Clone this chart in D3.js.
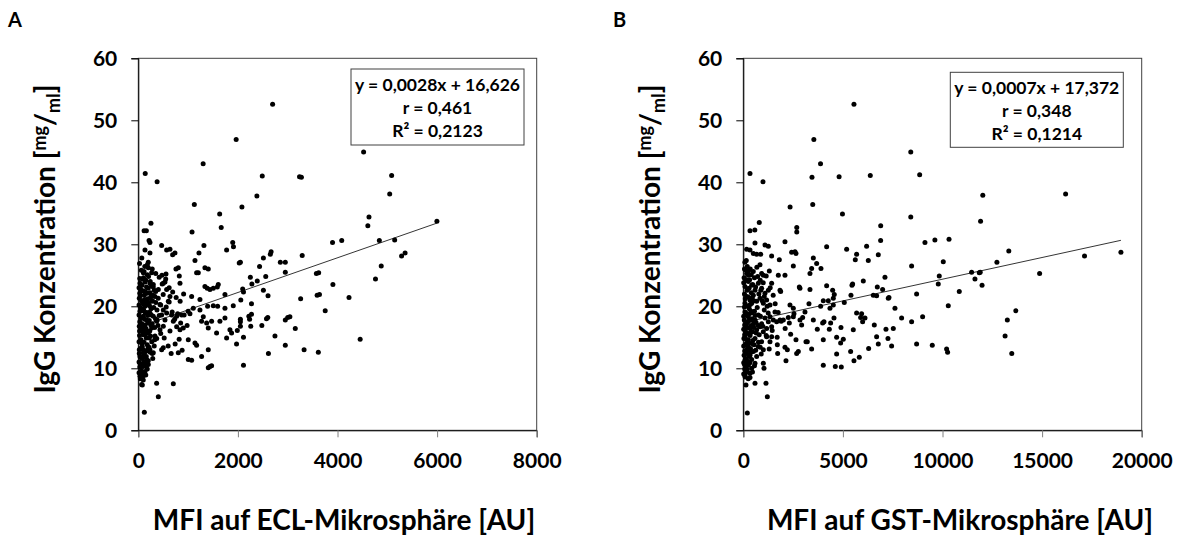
<!DOCTYPE html>
<html>
<head>
<meta charset="utf-8">
<script src="https://cdn.jsdelivr.net/npm/d3@7"></script>
<style>
  body { margin: 0; background: #fff; }
  svg { display: block; font-family: Lato, "Open Sans", sans-serif; font-weight: bold; }
</style>
</head>
<body>
<div id="chart"></div>
<script>
// IgG concentration vs MFI
const yTicks = [0, 10, 20, 30, 40, 50, 60];
const eclTicks = [0, 2000, 4000, 6000, 8000];
const gstTicks = [0, 5000, 10000, 15000, 20000];

const eclFit = { slope: 0.0028, intercept: 16.626 };
const gstFit = { slope: 0.0007, intercept: 17.372 };

const eclLegend = ['y = 0,0028x + 16,626', 'r = 0,461', 'R² = 0,2123'];
const gstLegend = ['y = 0,0007x + 17,372', 'r = 0,348', 'R² = 0,1214'];

// panel A: [MFI ECL, IgG]
const eclPoints = [
  [2697, 52.6], [1965, 46.9], [1302, 43.0], [4524, 44.9], [139, 41.4], [378, 40.1], [2489, 41.0],
  [3237, 40.9], [3275, 40.8], [5087, 41.1], [5048, 38.1], [2381, 37.8], [1125, 36.4], [2081, 36.0],
  [1634, 34.9], [1665, 32.7], [4632, 34.4], [4609, 33.0], [5996, 33.7], [254, 33.4], [116, 32.2],
  [162, 32.2], [1079, 32.0], [216, 30.6], [4085, 30.6], [4840, 30.6], [5148, 30.7], [3900, 30.3],
  [1896, 30.3],
  [1911, 29.6], [2651, 28.4], [2667, 28.8], [3291, 28.2], [5287, 28.1], [5357, 28.6], [2027, 27.0],
  [2050, 27.1], [2952, 27.1], [2852, 27.1], [4878, 26.5], [2435, 26.4], [2512, 27.8], [2952, 25.5],
  [3576, 25.3], [3622, 25.4], [4763, 24.4], [2559, 24.8], [2250, 24.7], [3908, 23.5], [2389, 24.1],
  [2281, 23.6], [2096, 22.8], [2112, 22.3], [3591, 21.8], [3638, 21.9], [4231, 21.4], [2605, 21.7],
  [2512, 22.6], [2058, 21.0], [3260, 21.2], [2273, 20.4], [3753, 19.3], [2273, 18.7], [2220, 18.4],
  [3044, 18.3], [3000, 18.2], [2952, 17.8], [2050, 17.9], [2050, 17.5], [2574, 18.0], [2600, 18.2],
  [2235, 17.9], [2050, 16.8], [2258, 16.8], [2481, 16.9], [3152, 16.4], [2744, 15.2], [1988, 16.1],
  [2112, 15.0], [4455, 14.7], [1973, 13.9], [2952, 13.7], [3329, 13.0], [2613, 12.4], [3615, 12.6],
  [2112, 10.5], [1773, 29.1],
  [234, 30.3], [134, 29.1], [234, 28.6], [469, 29.8], [569, 29.1], [636, 29.2], [689, 28.3],
  [736, 28.6], [1218, 28.6], [1318, 29.8],
  [181, 26.7], [201, 26.2], [101, 25.4], [268, 25.4], [756, 26.0], [803, 26.2], [823, 24.9],
  [475, 25.0], [556, 25.2], [1171, 25.4], [1205, 25.4], [1338, 26.2], [1405, 26.0], [1138, 27.4],
  [30, 22.1], [34, 23.7], [134, 23.9], [234, 23.7], [301, 23.5], [402, 22.7], [502, 23.7],
  [536, 23.9], [569, 22.7], [837, 23.7], [636, 21.6], [603, 20.8], [1071, 21.6], [1238, 21.1],
  [1338, 23.2], [1385, 22.9], [1439, 22.7], [1506, 22.9], [1606, 23.5], [1586, 23.1], [1740, 21.9],
  [20, 21.3], [67, 20.8], [134, 20.0], [201, 20.5], [268, 20.8], [335, 21.6], [435, 20.3],
  [502, 19.4], [569, 18.9], [34, 19.2], [101, 18.4], [168, 17.8], [234, 18.9], [301, 18.4],
  [368, 17.6], [469, 18.6], [536, 17.8], [669, 18.6], [770, 18.4], [870, 18.6], [1037, 18.8],
  [1104, 19.7], [1238, 19.4], [1305, 18.3], [1392, 20.0], [1506, 20.1], [1593, 20.0], [1740, 19.7],
  [1907, 20.1],
  [20, 16.8], [67, 16.2], [134, 17.0], [201, 15.7], [268, 16.5], [335, 15.2], [435, 16.2],
  [502, 16.8], [636, 16.0], [703, 17.6], [770, 16.7], [837, 16.2], [903, 16.5], [1004, 14.6],
  [1138, 14.1], [1171, 13.7], [1271, 17.6], [1372, 17.3], [1405, 16.5], [1472, 17.6], [1572, 15.7],
  [1639, 17.6], [1740, 18.1], [1840, 16.2], [1773, 14.9], [1873, 15.7],
  [20, 13.0], [34, 11.9], [101, 12.5], [168, 11.4], [67, 10.3], [134, 9.5], [201, 10.6],
  [234, 13.0], [301, 12.5], [469, 13.0], [502, 13.3], [803, 12.5], [1004, 11.4], [1071, 11.3],
  [1271, 11.9], [1405, 13.0], [1405, 10.1], [1439, 10.3], [1472, 10.4], [34, 8.7], [101, 8.8],
  [67, 7.4], [368, 7.6], [703, 7.5], [402, 5.4], [121, 2.9], [80, 7.3],
  [30, 24.5], [60, 25.8], [90, 22.5], [120, 21.8], [150, 24.2], [200, 22.9], [250, 21.5],
  [45, 19.8], [75, 20.9], [105, 19.5], [140, 18.9], [170, 20.3], [210, 19.0], [260, 18.6],
  [310, 19.8], [350, 20.6], [30, 17.5], [60, 18.1], [95, 16.8], [125, 17.9], [155, 16.4],
  [190, 17.3], [230, 16.0], [280, 17.2], [330, 16.6], [380, 17.8], [420, 18.5], [25, 15.3],
  [55, 14.6], [85, 15.9], [115, 14.2], [145, 15.5], [180, 13.8], [220, 14.9], [270, 14.3],
  [320, 13.6], [370, 14.8], [20, 12.4], [50, 11.8], [80, 13.5], [110, 12.1], [140, 10.9],
  [170, 12.8], [200, 11.2], [240, 12.6], [290, 11.6], [30, 10.2], [60, 9.6], [90, 10.7],
  [120, 9.2], [150, 8.9], [180, 9.9], [40, 8.3], [100, 8.1], [25, 26.9], [70, 27.8], [130, 26.4],
  [180, 25.1], [240, 24.0], [300, 23.1], [350, 22.4], [400, 21.3], [450, 20.2], [500, 21.9],
  [560, 19.9], [620, 20.7], [680, 19.1], [730, 17.9], [790, 18.8], [850, 17.3], [920, 18.6],
  [980, 16.9], [450, 15.6], [520, 14.9], [600, 13.6], [660, 12.4], [740, 13.9], [820, 14.7],
  [880, 12.9], [200, 27.1], [280, 26.0], [350, 25.3], [420, 24.7], [480, 23.6], [550, 24.4],
  [620, 23.0], [690, 22.3], [760, 21.4], [840, 20.8], [910, 22.0], [1000, 19.2],
  [15, 23.0], [45, 22.8], [75, 23.4], [105, 24.6], [135, 22.4], [165, 23.1], [195, 21.2],
  [225, 20.1], [255, 19.6], [285, 20.9], [15, 20.2], [40, 21.7], [70, 19.3], [100, 20.4],
  [130, 21.1], [160, 19.0], [190, 18.5], [220, 17.7], [250, 17.0], [15, 18.6], [40, 16.5],
  [70, 17.2], [100, 15.4], [130, 16.2], [160, 14.9], [190, 15.9], [215, 13.4], [245, 15.2],
  [15, 14.3], [40, 13.2], [70, 14.0], [100, 13.0], [130, 12.6], [160, 11.9], [190, 13.1],
  [15, 11.0], [40, 10.6], [70, 11.6], [100, 10.3], [130, 11.8], [160, 10.4], [15, 9.3],
  [55, 9.0], [85, 9.4], [110, 11.0], [25, 16.0], [50, 23.5], [85, 24.4], [115, 25.6],
  [145, 20.6], [175, 22.1], [205, 24.8], [235, 22.2], [265, 23.3], [295, 21.8], [320, 22.6],
  [345, 18.0], [375, 19.4], [395, 16.9], [330, 14.6], [280, 12.4]
];

// panel B: [MFI GST, IgG]
const gstPoints = [
  [5555, 52.6], [3542, 46.9], [3877, 43.0], [8407, 44.9], [336, 41.4], [988, 40.1], [3448, 40.8],
  [4809, 40.9], [6375, 41.1], [8854, 41.2], [12023, 37.9], [16180, 38.1], [3486, 36.4], [2349, 36.0],
  [4977, 34.9], [8407, 34.4], [11911, 33.7], [801, 33.5], [2684, 32.7], [2684, 32.0], [6897, 33.0],
  [336, 32.2], [578, 32.3], [9618, 30.7], [10327, 30.8],
  [587, 30.2], [2092, 30.4], [1089, 29.9], [1256, 29.7], [336, 29.1], [503, 28.5], [670, 28.4],
  [871, 28.4], [2427, 28.7], [2594, 28.8], [2645, 28.5], [4184, 29.6], [5188, 29.2], [6191, 29.7],
  [6894, 30.6], [9119, 30.3], [5689, 28.4], [6777, 28.3], [1423, 28.1], [1808, 27.5], [3515, 27.8],
  [169, 29.2],
  [169, 25.3], [252, 25.0], [838, 26.7], [921, 25.3], [1005, 25.0], [1306, 25.7], [1423, 23.7],
  [1758, 25.0], [2092, 25.0], [2511, 26.5], [3347, 25.3], [3431, 26.1], [3682, 26.9], [3899, 26.1],
  [5622, 27.5], [6275, 27.4], [7111, 24.7], [8450, 26.5], [10039, 27.2], [11461, 25.5], [11846, 25.4],
  [9838, 24.9], [11629, 24.4],
  [85, 23.2], [252, 24.0], [420, 23.4], [587, 22.6], [754, 23.7], [921, 22.9], [1089, 22.1],
  [1256, 22.6], [169, 21.6], [336, 21.0], [503, 21.8], [670, 20.8], [838, 21.3], [1005, 20.5],
  [1172, 21.0], [1340, 20.2], [85, 20.5], [252, 20.0], [1842, 22.6], [1875, 22.4], [2812, 23.1],
  [2845, 22.9], [3347, 22.7], [4184, 23.3], [4485, 22.6], [4568, 21.9], [4518, 21.3], [4016, 20.9],
  [4267, 20.9], [5070, 20.6], [5405, 21.8], [5455, 23.4], [5488, 23.6], [6024, 24.1], [6727, 23.1],
  [6526, 21.8], [6693, 21.7], [6994, 22.7], [7312, 21.4], [7279, 21.3], [7613, 19.7], [8700, 22.0],
  [9788, 23.6], [10842, 22.4], [10290, 20.1], [2343, 20.2], [2511, 19.7], [3096, 19.1], [3297, 20.4],
  [3883, 20.0], [4351, 19.7], [4518, 20.2],
  [85, 19.1], [252, 18.3], [420, 18.9], [587, 17.8], [754, 18.6], [921, 17.2], [1089, 18.1],
  [1256, 17.5], [1423, 16.7], [169, 17.3], [336, 16.4], [503, 17.0], [670, 16.2], [838, 16.7],
  [1005, 15.9], [1172, 16.4], [85, 16.2], [1340, 18.3], [1507, 17.8], [1591, 19.1], [1674, 17.5],
  [1842, 17.8], [2009, 17.8], [2260, 18.2], [2310, 17.3], [2511, 18.3], [2544, 18.8], [2845, 17.8],
  [2979, 18.2], [2929, 17.0], [3515, 17.8], [3715, 16.3], [3983, 17.3], [4050, 17.5], [4384, 17.3],
  [4552, 18.1], [4318, 16.3], [4903, 16.6], [5522, 16.2], [5689, 18.9], [5940, 18.8], [5890, 18.2],
  [5990, 17.5], [6108, 18.1], [6576, 17.0], [7162, 16.3], [7530, 16.4], [7948, 18.1], [8450, 17.5],
  [9002, 18.3],
  [85, 15.1], [252, 14.6], [420, 14.0], [587, 14.8], [754, 13.5], [921, 14.3], [169, 13.0],
  [336, 12.1], [503, 12.7], [670, 11.9], [85, 11.3], [252, 10.5], [420, 10.0], [587, 10.8],
  [169, 9.5], [336, 9.2], [1005, 13.0], [1172, 15.1], [1340, 14.3], [1423, 15.1], [1005, 10.8],
  [1038, 10.0], [1139, 7.6], [1206, 5.4], [202, 2.8], [587, 7.6], [135, 7.3], [336, 8.5], [85, 8.7],
  [1708, 13.8], [1724, 12.4], [2092, 13.4], [2143, 11.2], [2210, 13.0], [2377, 15.5], [2645, 14.6],
  [2678, 12.4], [2762, 12.7], [3147, 14.3], [3213, 14.3], [3431, 13.1], [4016, 14.6], [4686, 15.0],
  [4686, 12.3], [4886, 14.1], [5020, 14.7], [5388, 12.7], [5823, 11.8], [5555, 11.2], [6292, 13.2],
  [6693, 15.1], [6777, 13.9], [7262, 14.8], [7446, 13.6], [8700, 13.9], [9487, 13.7], [10206, 13.1],
  [10256, 12.6], [4016, 10.5], [4619, 10.3], [4920, 10.2],
  [11893, 25.5], [11986, 23.4], [12731, 27.1], [13328, 28.9], [14875, 25.3], [17130, 28.1],
  [18957, 28.7], [13254, 17.8], [13682, 19.3], [13141, 15.2], [13477, 12.4],
  [40, 24.6], [110, 25.9], [220, 22.8], [320, 24.3], [450, 21.4], [620, 23.1], [780, 22.0],
  [950, 20.9], [60, 19.9], [180, 18.8], [300, 19.6], [420, 20.5], [560, 19.2], [700, 19.8],
  [860, 18.4], [1050, 19.4], [1250, 18.9], [50, 17.8], [140, 16.9], [260, 17.6], [380, 15.8],
  [520, 16.6], [640, 17.4], [800, 15.4], [980, 16.8], [1150, 15.3], [30, 14.8], [130, 13.9],
  [240, 15.6], [360, 13.2], [480, 14.5], [620, 12.9], [760, 14.2], [900, 12.3], [40, 12.1],
  [150, 11.5], [280, 12.9], [420, 11.4], [560, 10.4], [60, 10.6], [200, 9.8], [330, 10.9],
  [460, 9.4], [100, 8.6], [250, 8.3], [80, 27.1], [200, 26.4], [350, 26.0], [500, 25.6],
  [680, 26.3], [850, 24.2], [1000, 23.8], [1150, 24.9], [1350, 23.0], [1500, 21.8], [1600, 20.4],
  [1750, 19.0], [1900, 17.6], [2100, 16.4], [1450, 16.1], [1300, 13.1], [1700, 15.0],
  [20, 23.8], [60, 22.0], [100, 21.2], [140, 24.3], [190, 22.6], [240, 21.5], [290, 22.9],
  [350, 20.3], [400, 22.2], [470, 23.5], [530, 20.9], [20, 18.4], [70, 17.0], [110, 18.9],
  [160, 20.1], [210, 17.4], [270, 18.7], [330, 17.8], [390, 19.2], [450, 18.0], [510, 17.6],
  [600, 18.5], [20, 16.3], [70, 15.4], [115, 15.9], [165, 14.6], [215, 16.6], [280, 14.1],
  [340, 15.3], [400, 16.9], [460, 15.9], [540, 13.8], [20, 13.6], [70, 12.8], [115, 11.6],
  [170, 12.4], [220, 13.6], [300, 11.9], [380, 12.6], [20, 10.9], [70, 9.9], [130, 10.2],
  [180, 10.8], [240, 11.1], [20, 9.1], [120, 9.3], [60, 26.0], [150, 27.4], [260, 25.7],
  [400, 25.1], [560, 24.6], [720, 24.8], [880, 22.6], [1050, 21.6], [1200, 20.0], [650, 15.7],
  [750, 16.9], [850, 13.4]
];

const width = 1181;
const height = 538;
const plotTop = 58.3, plotBottom = 430.3;

const panels = [
  {
    letter: 'A', left: 138.3, right: 536.7, xMax: 8000, xTicks: eclTicks,
    points: eclPoints, fit: eclFit, legend: eclLegend,
    box: { x: 351, y: 69, w: 173, h: 76 },
    xTitle: 'MFI auf ECL-Mikrosphäre [AU]', xTitleX: 344, yTitleX: 55, letterX: 8
  },
  {
    letter: 'B', left: 743.3, right: 1141.7, xMax: 20000, xTicks: gstTicks,
    points: gstPoints, fit: gstFit, legend: gstLegend,
    box: { x: 950.3, y: 72.3, w: 173, h: 75 },
    xTitle: 'MFI auf GST-Mikrosphäre [AU]', xTitleX: 960, yTitleX: 660, letterX: 613
  }
];

const svg = d3.select('#chart')
  .append('svg')
  .attr('width', width)
  .attr('height', height)
  .attr('viewBox', [0, 0, width, height]);

const y = d3.scaleLinear().domain([0, 60]).range([plotBottom, plotTop]);

panels.forEach((p) => {
  const x = d3.scaleLinear().domain([0, p.xMax]).range([p.left, p.right]);
  const g = svg.append('g');

  // panel letter
  g.append('text')
    .attr('x', p.letterX)
    .attr('y', 27)
    .attr('font-size', 20)
    .text(p.letter);

  // plot frame
  g.append('rect')
    .attr('x', p.left)
    .attr('y', plotTop)
    .attr('width', p.right - p.left)
    .attr('height', plotBottom - plotTop)
    .attr('fill', 'none')
    .attr('stroke', '#404040')
    .attr('stroke-width', 1);

  g.append('g')
    .attr('transform', `translate(0,${plotBottom})`)
    .call(d3.axisBottom(x).tickValues(p.xTicks).tickSize(7).tickPadding(16).tickFormat(d3.format('d')))
    .call((a) => a.select('.domain').attr('stroke', '#000'))
    .call((a) => a.selectAll('.tick line').attr('stroke', '#808080'))
    .call((a) => a.selectAll('.tick text')
      .attr('font-size', 21).attr('font-family', 'Lato').attr('font-weight', 'bold').attr('fill', '#000'));

  g.append('g')
    .attr('transform', `translate(${p.left},0)`)
    .call(d3.axisLeft(y).tickValues(yTicks).tickSize(7).tickPadding(14))
    .call((a) => a.select('.domain').attr('stroke', '#000'))
    .call((a) => a.selectAll('.tick line').attr('stroke', '#000'))
    .call((a) => a.selectAll('.tick text')
      .attr('font-size', 21).attr('font-family', 'Lato').attr('font-weight', 'bold').attr('fill', '#000'));

  // dots
  g.append('g')
    .selectAll('circle')
    .data(p.points)
    .join('circle')
    .attr('cx', (d) => x(d[0]))
    .attr('cy', (d) => y(d[1]))
    .attr('r', 2.5)
    .attr('fill', '#000');

  // linear trend line across the data range
  const [x0, x1] = d3.extent(p.points, (d) => d[0]);
  g.append('line')
    .attr('x1', x(x0))
    .attr('y1', y(p.fit.slope * x0 + p.fit.intercept))
    .attr('x2', x(x1))
    .attr('y2', y(p.fit.slope * x1 + p.fit.intercept))
    .attr('stroke', '#000')
    .attr('stroke-width', 0.8);

  // equation box
  g.append('rect')
    .attr('x', p.box.x)
    .attr('y', p.box.y)
    .attr('width', p.box.w)
    .attr('height', p.box.h)
    .attr('fill', '#fff')
    .attr('stroke', '#404040')
    .attr('stroke-width', 1);

  g.append('g')
    .selectAll('text')
    .data(p.legend)
    .join('text')
    .attr('x', p.box.x + p.box.w / 2)
    .attr('y', (d, i) => p.box.y + 22 + i * 23)
    .attr('text-anchor', 'middle')
    .attr('font-size', 17.5)
    .text((d) => d);

  // axis titles
  g.append('text')
    .attr('x', p.xTitleX)
    .attr('y', 530)
    .attr('text-anchor', 'middle')
    .attr('font-size', 28)
    .text(p.xTitle);

  const yt = g.append('text')
    .attr('transform', `translate(${p.yTitleX},239) rotate(-90)`)
    .attr('text-anchor', 'middle')
    .attr('font-size', 28);
  yt.append('tspan').text('IgG Konzentration [');
  yt.append('tspan').attr('font-size', 18).attr('dy', -9).text('mg');
  yt.append('tspan').attr('dy', 9).text('/');
  yt.append('tspan').attr('font-size', 18).attr('dy', 5).text('ml');
  yt.append('tspan').attr('dy', -5).text(']');
});
</script>
</body>
</html>
